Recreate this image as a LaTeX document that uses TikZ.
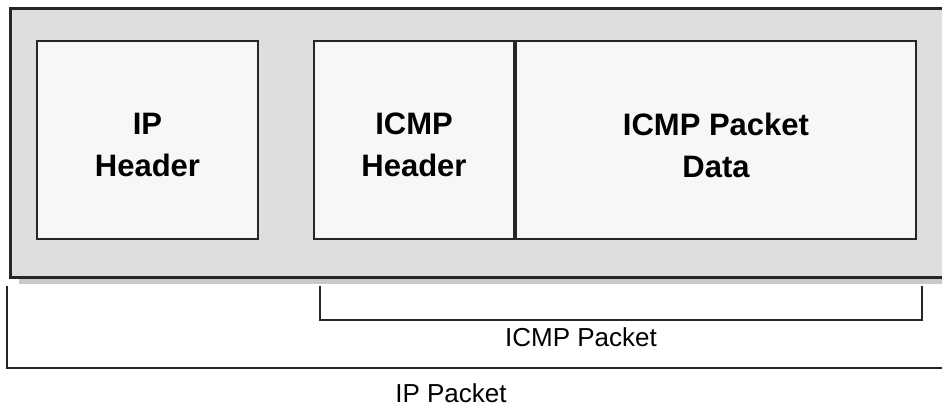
\documentclass[tikz,border=0pt]{standalone}
\usepackage{fontspec}
\setmainfont{Liberation Sans}
\usetikzlibrary{positioning}
\tikzset{
  pktbox/.style={draw=black!85, line width=2pt, fill=black!3, inner sep=0pt,
    minimum height=198pt},
  pkttxt/.style={align=center, yshift=-5pt, font=\fontsize{31}{42}\selectfont\bfseries},
  frame/.style={draw=black!85, line width=3pt, fill=black!13},
  brk/.style={draw=black!85, line width=2pt},
  lbl/.style={inner sep=1pt, font=\fontsize{26}{30}\selectfont}
}
\begin{document}
\begin{tikzpicture}[x=1pt,y=-1pt]
  \useasboundingbox (0,0) rectangle (942,407);
  % outer frame with its shadow
  \fill[black!21] (19,277) rectangle (960,284);
  \draw[frame] (10,8) rectangle (960,277);
  % packet parts
  \node[pktbox, minimum width=221pt, label={[pkttxt]center:IP\\Header}] (iphdr) at (147.5,140) {};
  \node[pktbox, minimum width=200pt, label={[pkttxt]center:ICMP\\Header}] (icmphdr) at (414,140) {};
  \node[pktbox, minimum width=400pt, right=0pt of icmphdr,
    label={[pkttxt]center:ICMP Packet\\Data}] (icmpdata) {};
  % brackets
  \coordinate (icmpa) at (320,286);
  \coordinate (icmpb) at (922,286);
  \coordinate (ipa) at (7,286);
  \coordinate (ipb) at (960,368);
  \draw[brk] (icmpa) -- ++(0,34) -| (icmpb);
  \draw[brk] (ipa) |- (ipb);
  \node[lbl] (icmplbl) at (581,337) {ICMP Packet};
  \node[lbl] (iplbl) at (451,393) {IP Packet};
\end{tikzpicture}
\end{document}
